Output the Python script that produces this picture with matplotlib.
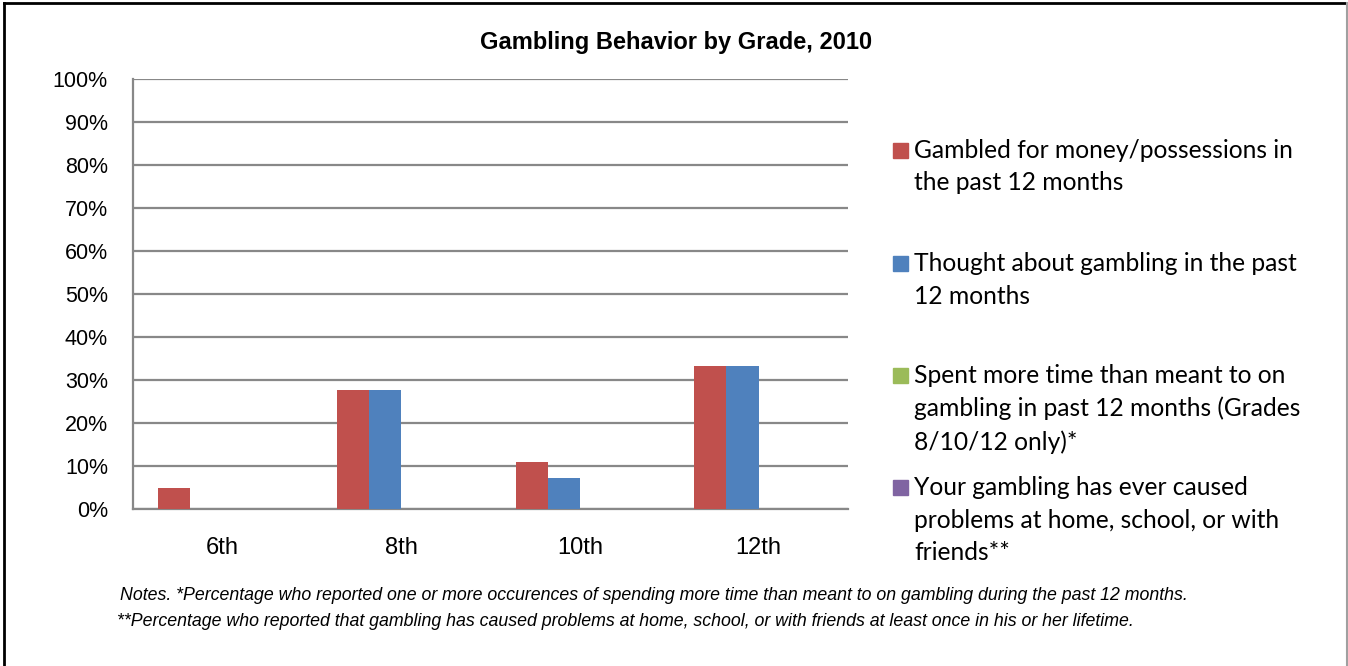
import numpy as np
import matplotlib.pyplot as plt
from matplotlib.patches import Rectangle
from matplotlib.lines import Line2D

# DATA
grades = ['6th', '8th', '10th', '12th']
gambled = [5.0, 27.7, 10.9, 33.3]
thought = [np.nan, 27.7, 7.3, 33.3]
spent_more = [np.nan, np.nan, np.nan, np.nan]
caused_problems = [np.nan, np.nan, np.nan, np.nan]

series = [gambled, thought, spent_more, caused_problems]
labels = ['Gambled for money/possessions in\nthe past 12 months',
          'Thought about gambling in the past\n12 months',
          'Spent more time than meant to on\ngambling in past 12 months (Grades\n8/10/12 only)*',
          'Your gambling has ever caused\nproblems at home, school, or with\nfriends**']
colors = ['#C0504D', '#4F81BD', '#9BBB59', '#8064A2']
yticks = np.arange(0, 101, 10)

notes = ['Notes. *Percentage who reported one or more occurences of spending more time than meant to on gambling during the past 12 months.',
         '**Percentage who reported that gambling has caused problems at home, school, or with friends at least once in his or her lifetime.']

NARROW = ['Liberation Sans Narrow', 'Liberation Sans', 'DejaVu Sans']

W, H = 1348, 666
fig = plt.figure(figsize=(W / 100, H / 100), dpi=100)
ax = fig.add_axes([133 / W, 1 - 509 / H, (848 - 133) / W, (509 - 79) / H])

x = np.arange(len(grades))
bw = 0.18
for i, (vals, c) in enumerate(zip(series, colors)):
    ax.bar(x + (i - 1.5) * bw, vals, bw, color=c, linewidth=0, zorder=3)

ax.set_xlim(-0.5, len(grades) - 0.5)
ax.set_ylim(0, 100)
ax.set_yticks(yticks)
ax.set_yticklabels([f'{v}%' for v in yticks], family=NARROW, fontsize=15.5)
ax.set_xticks(x)
ax.set_xticklabels(grades, family=NARROW, fontsize=17)
ax.tick_params(length=0)
ax.tick_params(axis='y', pad=18)
ax.tick_params(axis='x', pad=20)
ax.grid(axis='y', color='#888888', linewidth=1.6, zorder=0)
for s in ['top', 'right']:
    ax.spines[s].set_visible(False)
for s in ['left', 'bottom']:
    ax.spines[s].set_color('#888888')
    ax.spines[s].set_linewidth(1.6)

fig.text(676 / W, 1 - 42 / H, 'Gambling Behavior by Grade, 2010', ha='center', va='center',
         family=NARROW, fontsize=17, fontweight='bold')

# legend drawn by hand so entries keep an even pitch
entry_y = [150, 263, 375, 487]
for lab, c, yy in zip(labels, colors, entry_y):
    fig.add_artist(Rectangle((893 / W, 1 - (yy + 7.5) / H), 15 / W, 15 / H,
                             transform=fig.transFigure, color=c))
    fig.text(914 / W, 1 - (yy - 11) / H, lab, ha='left', va='top', family='Lato',
             fontsize=17.7, linespacing=1.5)

fig.text(120 / W, 1 - 596 / H, notes[0], ha='left', va='center', family=NARROW,
         style='italic', fontsize=12.75)
fig.text(117 / W, 1 - 622 / H, notes[1], ha='left', va='center', family=NARROW,
         style='italic', fontsize=12.75)

# outer frame
fig.add_artist(Line2D([4 / W, 1346 / W], [1 - 3 / H, 1 - 3 / H], color='black', lw=2,
                      transform=fig.transFigure))
fig.add_artist(Line2D([4 / W, 4 / W], [0, 1 - 3 / H], color='black', lw=2,
                      transform=fig.transFigure))
fig.add_artist(Line2D([1346.5 / W, 1346.5 / W], [0, 1 - 3 / H], color='#a0a0a0', lw=1.5,
                      transform=fig.transFigure))

fig.savefig('out.png', dpi=100)
